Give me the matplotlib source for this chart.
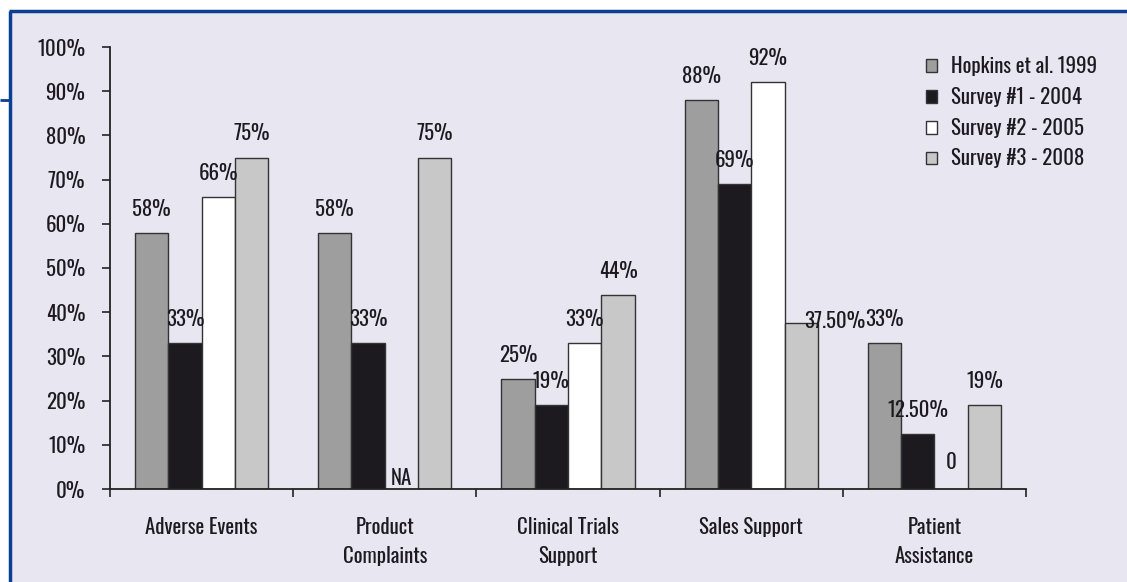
import matplotlib
matplotlib.use("Agg")
import matplotlib.pyplot as plt
from matplotlib.lines import Line2D
from matplotlib.patches import Patch

categories = ["Adverse Events", "Product\nComplaints", "Clinical Trials\nSupport",
              "Sales Support", "Patient\nAssistance"]
series_names = ["Hopkins et al. 1999", "Survey #1 - 2004", "Survey #2 - 2005", "Survey #3 - 2008"]
hopkins_1999 = [58, 58, 25, 88, 33]
survey1_2004 = [33, 33, 19, 69, 12.5]
survey2_2005 = [66, 0, 33, 92, 0]
survey3_2008 = [75, 75, 44, 37.5, 19]
labels_1999 = ["58%", "58%", "25%", "88%", "33%"]
labels_2004 = ["33%", "33%", "19%", "69%", "12.50%"]
labels_2005 = ["66%", "NA", "33%", "92%", "0"]
labels_2008 = ["75%", "75%", "44%", "37.50%", "19%"]
yticks = [0, 10, 20, 30, 40, 50, 60, 70, 80, 90, 100]

series = [hopkins_1999, survey1_2004, survey2_2005, survey3_2008]
labels = [labels_1999, labels_2004, labels_2005, labels_2008]
colors = ["#9e9e9e", "#1c1a1f", "#ffffff", "#c8c8c9"]
BG = "#e8e7f1"
BLUE = "#0b3f94"
TXT = "#1c1a1f"
FONT = ["Oswald", "Barlow Condensed", "Roboto Condensed", "DejaVu Sans"]
plt.rcParams["font.family"] = FONT
plt.rcParams["font.weight"] = "normal"
FS = 15

fig = plt.figure(figsize=(11.27, 5.82), dpi=100)
fig.patch.set_facecolor("white")
W, H = 1127, 582
PX = 72 / 100  # points per pixel
panel = plt.Rectangle((10 / W, 0), 1 - 10 / W, 1 - 11 / H, transform=fig.transFigure,
                      facecolor=BG, edgecolor="none", zorder=-5)
fig.patches.append(panel)
fig.add_artist(Line2D([10 / W, 10 / W], [0, 1 - 11 / H], transform=fig.transFigure,
                      color=BLUE, lw=2.5, solid_capstyle="butt", zorder=-4))
fig.add_artist(Line2D([9 / W, 1], [1 - 11 / H, 1 - 11 / H], transform=fig.transFigure,
                      color=BLUE, lw=2.5, solid_capstyle="butt", zorder=-4))
fig.add_artist(Line2D([0, 10 / W], [1 - 100 / H, 1 - 100 / H], transform=fig.transFigure,
                      color=BLUE, lw=2.0, solid_capstyle="butt", zorder=-4))

ax = fig.add_axes([110 / W, 1 - 489 / H, (1026 - 110) / W, (489 - 47) / H])
ax.set_zorder(2)
ax.set_facecolor("none")
ax.set_xlim(0, len(categories))
ax.set_ylim(0, 100)

bw = 0.182
n = len(series)
for si, (vals, labs) in enumerate(zip(series, labels)):
    for ci, (v, lab) in enumerate(zip(vals, labs)):
        x = ci + 0.5 + (si - (n - 1) / 2) * bw
        if v > 0:
            ax.bar(x, v, width=bw, color=colors[si], edgecolor="#333333", linewidth=1.0, zorder=2)
        if lab == "NA":
            off = (0, 11)
        elif lab == "0":
            off = (0, 27)
        elif lab == "37.50%":
            off = (34, 2)
        else:
            off = (0, 24)
        ax.annotate(lab, (x, v), xytext=(off[0] * PX, off[1] * PX), textcoords="offset points",
                    ha="center", va="center", fontsize=FS, color=TXT, zorder=3)

ax.set_yticks(yticks)
ax.set_yticklabels([f"{t}%" for t in yticks], fontsize=FS, color=TXT)
ax.set_xticks(range(len(categories) + 1))
ax.set_xticklabels([])
ax.set_xticks([i + 0.5 for i in range(len(categories))], minor=True)
ax.set_xticklabels(categories, minor=True, fontsize=FS, color=TXT, linespacing=1.55)
ax.tick_params(axis="x", which="minor", length=0, pad=20)
ax.tick_params(axis="x", which="major", direction="out", length=6, width=1.2, color="#222222")
ax.tick_params(axis="y", direction="out", length=5.8, width=1.2, color="#222222", pad=12)
for s in ["top", "right"]:
    ax.spines[s].set_visible(False)
for s in ["left", "bottom"]:
    ax.spines[s].set_color("#222222")
    ax.spines[s].set_linewidth(1.3)

handles = [Patch(facecolor=c, edgecolor="#333333", linewidth=1.0) for c in colors]
leg = fig.legend(handles, series_names, loc="upper left", bbox_to_anchor=(926 / W, 1 - 56 / H),
                 frameon=False, fontsize=FS, handlelength=0.55, handleheight=0.55,
                 handletextpad=0.65, labelspacing=0.52, borderaxespad=0, borderpad=0)
for t in leg.get_texts():
    t.set_color(TXT)

fig.savefig("out.png", dpi=100, facecolor=fig.get_facecolor())
